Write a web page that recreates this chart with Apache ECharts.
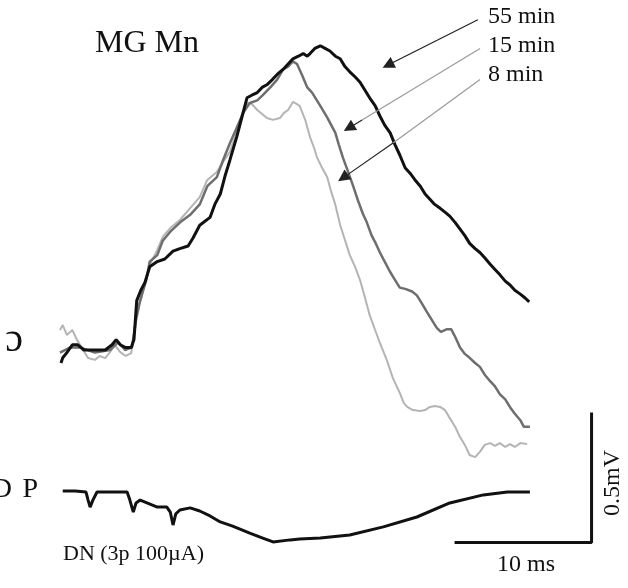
<!DOCTYPE html>
<html><head><meta charset="utf-8">
<script src="https://cdn.jsdelivr.net/npm/echarts@6/dist/echarts.min.js"></script>
<style>html,body{margin:0;padding:0;background:#fff}#c{width:628px;height:588px}</style>
</head><body><div id="c"></div><script>
// time in ms, amplitude in mV
const trace55min = [[0.07,-0.05],[0.2,-0.03],[0.5,-0.01],[0.9,0.02],[1.3,0.02],[1.75,0.0],[2.55,0.0],[3.3,0.0],[3.8,0.02],[4.1,0.04],[4.4,0.02],[4.75,0.01],[5.2,0.01],[5.4,0.04],[5.6,0.19],[5.9,0.23],[6.2,0.26],[6.55,0.32],[7.1,0.34],[7.65,0.35],[8.25,0.38],[8.75,0.39],[9.35,0.40],[9.7,0.43],[10.2,0.48],[10.95,0.51],[11.3,0.56],[11.7,0.60],[12.05,0.67],[12.4,0.73],[12.9,0.82],[13.3,0.90],[13.65,0.97],[14.0,0.98],[14.4,0.99],[14.75,1.01],[15.1,1.02],[15.5,1.04],[15.85,1.06],[16.3,1.08],[16.65,1.10],[17.0,1.12],[17.4,1.13],[17.75,1.14],[18.05,1.13],[18.25,1.14],[18.6,1.16],[19.0,1.17],[19.35,1.16],[19.7,1.15],[20.1,1.13],[20.45,1.12],[20.8,1.09],[21.15,1.07],[21.55,1.05],[21.9,1.03],[22.25,1.0],[22.6,0.97],[23.0,0.94],[23.35,0.90],[23.7,0.865],[24.1,0.835],[24.45,0.79],[24.8,0.75],[25.2,0.70],[25.55,0.68],[25.9,0.655],[26.3,0.63],[26.65,0.60],[27.0,0.58],[27.35,0.56],[27.75,0.545],[28.1,0.53],[28.45,0.515],[28.85,0.49],[29.2,0.465],[29.55,0.44],[29.9,0.41],[30.3,0.39],[30.65,0.375],[31.0,0.355],[31.4,0.33],[31.75,0.31],[32.1,0.29],[32.5,0.265],[32.85,0.25],[33.2,0.23],[33.6,0.215],[33.95,0.20],[34.25,0.185]];
const trace15min = [[0,-0.01],[0.75,0.01],[1.45,0.01],[2.55,-0.01],[3.65,0.0],[4.25,0.03],[4.75,0.0],[5.25,0.01],[5.55,0.115],[5.85,0.19],[6.3,0.27],[6.55,0.34],[7.1,0.365],[7.5,0.42],[8.05,0.455],[8.75,0.49],[9.5,0.52],[10.2,0.56],[10.75,0.63],[11.45,0.665],[11.9,0.73],[12.4,0.795],[12.9,0.855],[13.35,0.91],[13.85,0.95],[14.4,0.96],[14.8,0.98],[15.35,1.01],[15.85,1.04],[16.3,1.08],[16.65,1.09],[17.0,1.11],[17.3,1.10],[17.65,1.06],[18.05,1.01],[18.4,0.99],[18.75,0.96],[19.1,0.93],[19.5,0.895],[19.8,0.865],[20.1,0.835],[20.35,0.79],[20.65,0.74],[21.0,0.69],[21.4,0.63],[21.75,0.575],[22.1,0.525],[22.4,0.49],[22.75,0.44],[23.05,0.41],[23.35,0.375],[23.7,0.34],[24.1,0.30],[24.45,0.27],[24.8,0.24],[25.2,0.235],[25.7,0.225],[26.05,0.21],[26.4,0.18],[26.8,0.145],[27.15,0.115],[27.5,0.085],[27.8,0.07],[28.25,0.08],[28.55,0.08],[28.85,0.05],[29.2,0.01],[29.55,-0.015],[29.9,-0.03],[30.3,-0.05],[30.65,-0.065],[31.0,-0.095],[31.4,-0.12],[31.75,-0.14],[32.1,-0.17],[32.5,-0.19],[32.85,-0.22],[33.2,-0.245],[33.6,-0.27],[33.85,-0.295],[34.3,-0.295]];
const trace8min = [[0,0.077],[0.2,0.096],[0.5,0.058],[0.9,0.077],[1.25,0.038],[1.6,0.008],[2.05,-0.031],[2.55,-0.038],[2.9,-0.023],[3.3,-0.031],[3.65,-0.008],[4.0,0.019],[4.4,-0.008],[4.8,-0.023],[5.2,-0.012],[5.4,0.058],[5.6,0.154],[5.9,0.192],[6.2,0.262],[6.55,0.327],[7.1,0.385],[7.5,0.435],[8.05,0.469],[8.75,0.50],[9.5,0.546],[10.2,0.588],[10.75,0.654],[11.45,0.685],[11.9,0.723],[12.4,0.762],[12.9,0.838],[13.35,0.912],[13.65,0.95],[14.0,0.946],[14.4,0.923],[14.75,0.908],[15.1,0.892],[15.55,0.885],[16.05,0.892],[16.35,0.912],[16.65,0.923],[17.0,0.954],[17.3,0.946],[17.5,0.938],[17.9,0.885],[18.25,0.819],[18.55,0.777],[18.75,0.742],[19.1,0.704],[19.5,0.665],[19.8,0.608],[20.1,0.558],[20.45,0.481],[20.8,0.423],[21.15,0.365],[21.55,0.319],[21.9,0.269],[22.25,0.204],[22.6,0.135],[23.0,0.077],[23.35,0.027],[23.85,-0.038],[24.3,-0.108],[24.8,-0.165],[25.1,-0.204],[25.35,-0.219],[25.75,-0.231],[26.3,-0.235],[26.65,-0.231],[27.0,-0.219],[27.35,-0.215],[27.75,-0.219],[28.1,-0.231],[28.45,-0.262],[28.85,-0.296],[29.2,-0.335],[29.55,-0.365],[29.9,-0.404],[30.3,-0.412],[30.65,-0.392],[31.0,-0.365],[31.4,-0.358],[31.75,-0.369],[32.1,-0.358],[32.5,-0.373],[32.85,-0.362],[33.2,-0.373],[33.6,-0.358],[34.1,-0.362]];
const traceDP = [[0.2,0],[1.1,0],[1.9,-0.004],[2.05,-0.035],[2.2,-0.062],[2.4,-0.035],[2.7,-0.004],[3.65,-0.004],[4.9,-0.004],[5.1,-0.035],[5.35,-0.081],[5.55,-0.046],[5.85,-0.035],[6.35,-0.046],[7.1,-0.062],[7.8,-0.062],[8.05,-0.081],[8.25,-0.131],[8.45,-0.088],[8.75,-0.073],[9.5,-0.065],[10.2,-0.077],[10.95,-0.096],[11.7,-0.119],[12.6,-0.135],[13.85,-0.162],[14.8,-0.181],[15.55,-0.196],[16.8,-0.188],[17.5,-0.185],[19.0,-0.181],[21.15,-0.169],[23.6,-0.138],[26.05,-0.1],[28.45,-0.046],[30.9,-0.015],[32.65,-0.004],[34.3,-0.004]];
// scale bars: 10 ms and 0.5 mV
const scaleBarTime = [28.8, 38.8];
const scaleBarVolt = [-0.74, -0.24];
// arrows: label anchor -> pointed trace; the shaft is grey up to arrowBend, black after it
const arrowLabels = ['55 min', '15 min', '8 min'];
const arrowFrom = [[30.5, 1.27], [30.66, 1.16], [30.66, 1.04]];
const arrowBend = [null, [22.05, 0.885], [24.31, 0.796]];
const arrowTo = [[23.94, 1.096], [21.09, 0.854], [20.66, 0.662]];

const serif = '"Liberation Serif","Times New Roman",serif';
const chart = echarts.init(document.getElementById('c'), null, {renderer: 'canvas'});
const hiddenAxis = {show: false};
const arrowLines = [];
arrowFrom.forEach((f, i) => {
  let start = f;
  if (arrowBend[i]) {
    arrowLines.push([
      {coord: f, symbol: 'none', lineStyle: {color: '#9a9a9a', width: 1.2, type: 'solid'}},
      {coord: arrowBend[i], symbol: 'none'}
    ]);
    start = arrowBend[i];
  }
  arrowLines.push([
    {coord: start, symbol: 'none', lineStyle: {color: '#222', width: 1.2, type: 'solid'}},
    {coord: arrowTo[i], symbol: 'triangle', symbolSize: [12, 12]}
  ]);
});
chart.setOption({
  animation: false,
  backgroundColor: '#fff',
  grid: [
    {left: 60, width: 548, top: 12, height: 572},
    {left: 60, width: 548, top: 465, height: 104}
  ],
  xAxis: [
    Object.assign({type: 'value', min: 0, max: 40, gridIndex: 0}, hiddenAxis),
    Object.assign({type: 'value', min: 0, max: 40, gridIndex: 1}, hiddenAxis)
  ],
  yAxis: [
    Object.assign({type: 'value', min: -0.9, max: 1.3, gridIndex: 0}, hiddenAxis),
    Object.assign({type: 'value', min: -0.3, max: 0.1, gridIndex: 1}, hiddenAxis)
  ],
  series: [
    {name: '8 min', type: 'line', data: trace8min, showSymbol: false, lineStyle: {color: '#b4b4b4', width: 2}, z: 2},
    {name: '15 min', type: 'line', data: trace15min, showSymbol: false, lineStyle: {color: '#6e6e6e', width: 2.5}, z: 3},
    {name: '55 min', type: 'line', data: trace55min, showSymbol: false, lineStyle: {color: '#111', width: 3}, z: 4,
      markLine: {silent: true, animation: false, label: {show: false}, symbolKeepAspect: true,
        itemStyle: {color: '#111'},
        data: arrowLines}},
    {name: 'DP', type: 'line', xAxisIndex: 1, yAxisIndex: 1, data: traceDP, showSymbol: false, lineStyle: {color: '#111', width: 3}},
    {name: 'scale', type: 'line', data: [[scaleBarTime[0], scaleBarVolt[0]], [scaleBarTime[1], scaleBarVolt[0]], [scaleBarTime[1], scaleBarVolt[1]]],
      showSymbol: false, lineStyle: {color: '#111', width: 3}}
  ],
  graphic: [
    {type: 'text', left: 95, top: 28, style: {text: 'MG Mn', font: '32px ' + serif, fill: '#111'}},
    {type: 'text', left: 488, top: 5, style: {text: arrowLabels[0], font: '24px ' + serif, fill: '#111'}},
    {type: 'text', left: 488, top: 34, style: {text: arrowLabels[1], font: '24px ' + serif, fill: '#111'}},
    {type: 'text', left: 488, top: 63, style: {text: arrowLabels[2], font: '24px ' + serif, fill: '#111'}},
    {type: 'text', left: 63, top: 543, style: {text: 'DN (3p 100µA)', font: '22px ' + serif, fill: '#111'}},
    {type: 'text', left: 497, top: 553, style: {text: '10 ms', font: '24px ' + serif, fill: '#111'}},
    {type: 'text', x: 613, y: 483, rotation: Math.PI / 2, style: {text: '0.5mV', font: '24px ' + serif, fill: '#111', align: 'center', verticalAlign: 'middle'}},
    {type: 'text', x: 12, y: 490, style: {text: 'D', font: '28px ' + serif, fill: '#111', align: 'right', verticalAlign: 'middle'}},
    {type: 'text', x: 38, y: 490, style: {text: 'P', font: '28px ' + serif, fill: '#111', align: 'right', verticalAlign: 'middle'}},
    {type: 'text', x: 23, y: 340, style: {text: 'ɔ', font: '40px ' + serif, fill: '#111', align: 'right', verticalAlign: 'middle'}}
  ]
});
</script></body></html>
